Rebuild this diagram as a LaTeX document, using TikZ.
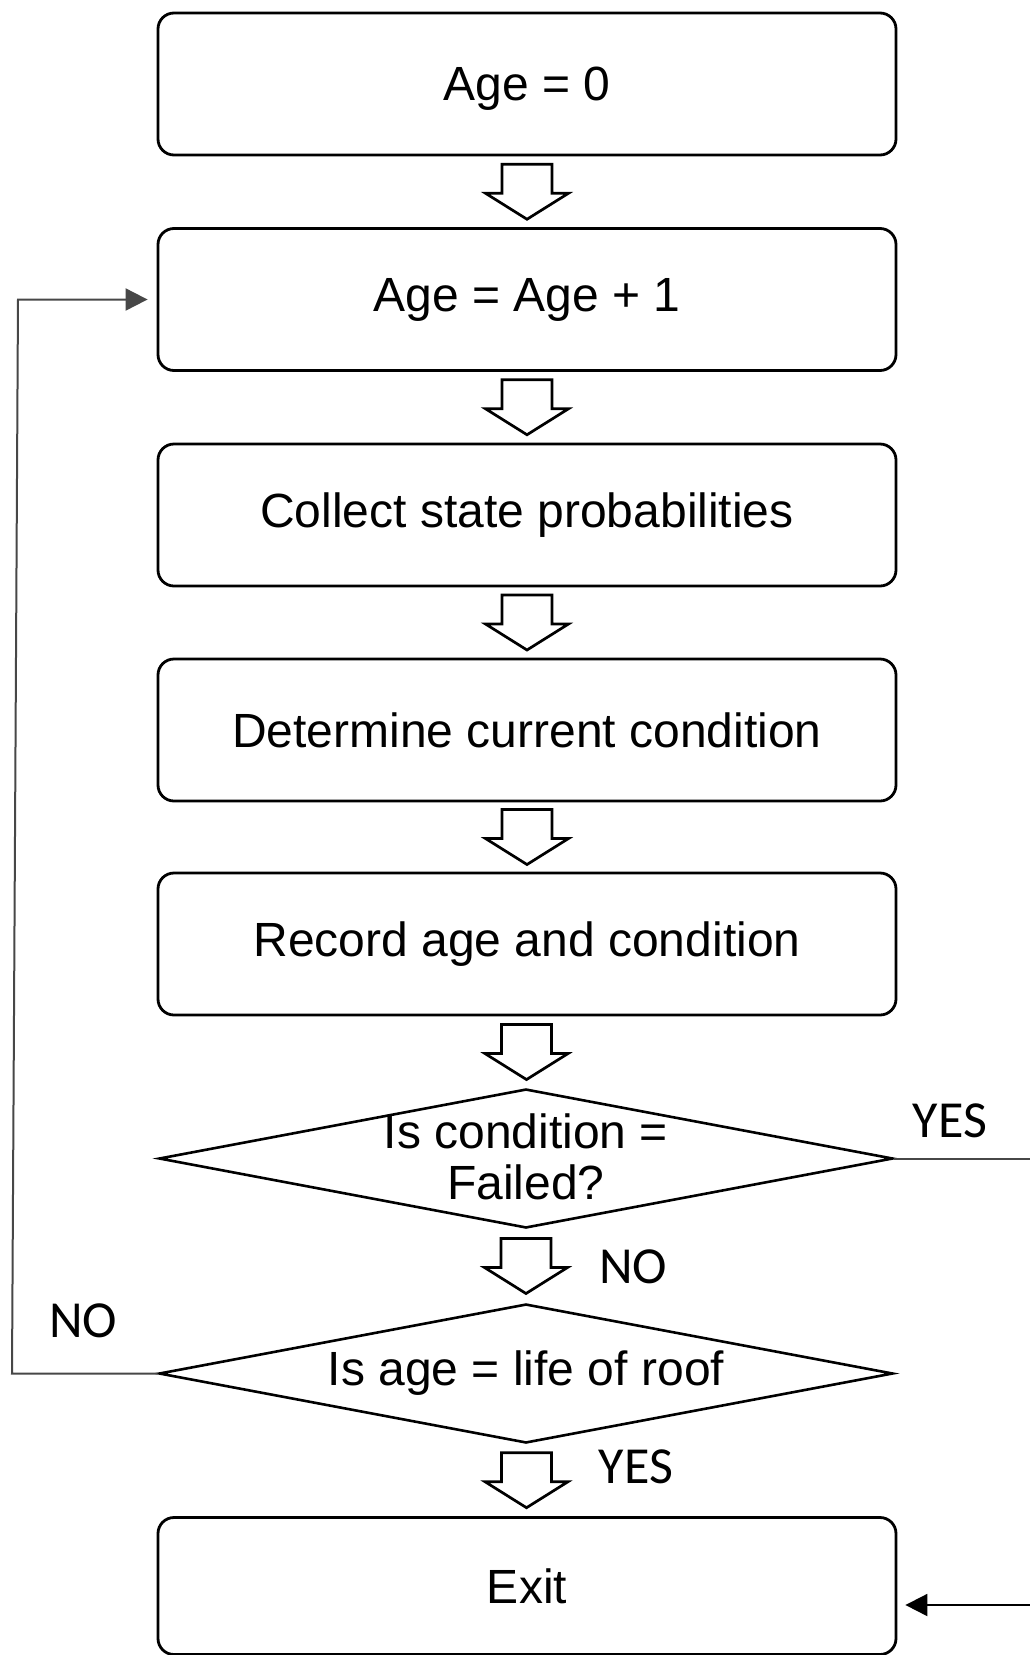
\documentclass[tikz,border=0pt]{standalone}
\usepackage{fontspec}
\setmainfont{Liberation Sans}
\newfontfamily\labfont{Carlito}
\usetikzlibrary{shapes.geometric,arrows.meta,calc}
\tikzset{
  barrow/.pic={
    \draw[line width=2.7pt,fill=white,line join=miter]
      (-25,-27.5) -- (25,-27.5) -- (25,1.5) -- (41.5,1.5) -- (0,27.5)
      -- (-41.5,1.5) -- (-25,1.5) -- cycle;
  }
}
\newcommand\blockconn[2]{\path ($(#1.south)!0.5!(#2.north)$) pic {barrow};}
\begin{document}
\begin{tikzpicture}[x=1pt,y=-1pt,
  box/.style={draw,line width=2.8pt,rounded corners=16pt,minimum width=738pt,minimum height=142pt,inner sep=0pt,font=\fontsize{48}{56}\selectfont},
  decision/.style={draw,diamond,line width=2.6pt,minimum width=734pt,minimum height=139pt,aspect=5.2,inner sep=0pt},
  dtext/.style={font=\fontsize{48}{51}\selectfont,align=center,inner sep=0pt},
  yn/.style={font=\labfont\fontsize{52}{60}\selectfont,inner sep=0pt},
  loopline/.style={draw=black!72,line width=2pt},
  tip/.style={-{Triangle[length=22pt,width=22pt]}}
]
\useasboundingbox (0,0) rectangle (1029,1655);
\node[box] (b1) at (527,84) {\raisebox{-5pt}[\height][\depth]{Age = 0}};
\node[box] (b2) at (527,299.5) {Age = Age + 1};
\node[box] (b3) at (527,515) {Collect state probabilities};
\node[box] (b4) at (527,730) {Determine current condition};
\node[box] (b5) at (527,944) {Record age and condition};
\node[decision] (d1) at (526,1158.5) {};
\node[decision] (d2) at (526,1373.5) {};
\node[box,minimum height=137pt] (b6) at (527,1586) {Exit};
\node[dtext] (t1) at ($(d1)+(0,-2)$) {Is condition =\\Failed?};
\node[dtext] (t2) at (d2) {Is age = life of roof};

\blockconn{b1}{b2}
\blockconn{b2}{b3}
\blockconn{b3}{b4}
\blockconn{b4}{b5}
\blockconn{b5}{d1}
\blockconn{d1}{d2}
\blockconn{d2}{b6}

\coordinate (l1) at (12,1373.5);
\coordinate (l2) at (18,299.5);
\draw[loopline,tip,shorten >=9pt] (d2.west) -- (l1) -- (l2) -- (b2.west);

\coordinate (r1) at (1035,1158.5);
\draw[loopline] (d1.east) -- (r1);
\coordinate (r2) at (1035,1605);
\draw[line width=2pt,tip,shorten >=8pt] (r2) -- (b6.east |- r2);

\node[yn] (yes1) at (950,1121) {YES};
\node[yn] (no1) at (633,1267) {NO};
\node[yn] (no2) at (83,1321) {NO};
\node[yn] (yes2) at (636,1467) {YES};
\end{tikzpicture}
\end{document}
